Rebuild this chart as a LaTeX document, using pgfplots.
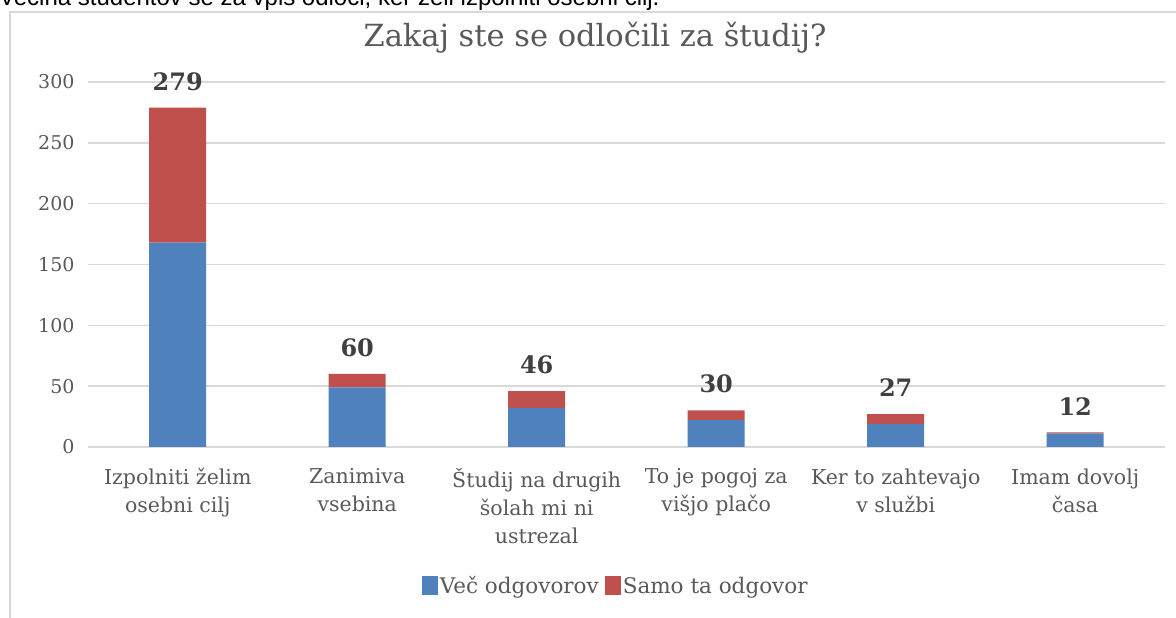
\documentclass[border=0pt]{standalone}
\usepackage{pgfplots}
\pgfplotsset{compat=1.18}
\usepackage{pgfplotstable}
\usepackage{fontspec}
\setmainfont{DejaVu Serif}
\newfontfamily\sans{Liberation Sans}
\definecolor{txt}{HTML}{595959}
\definecolor{lbl}{HTML}{404040}
\definecolor{bl}{HTML}{4F81BD}
\definecolor{rd}{HTML}{C0504D}
\definecolor{grd}{HTML}{D9D9D9}
\pgfplotstableread{
x blue red total
0 168 111 279
1 49 11 60
2 32 14 46
3 22 8 30
4 19 8 27
5 11 1 12
}\data
\pgfplotsset{common/.style={
  at={(88pt,171pt)}, anchor=south west,
  scale only axis, width=1077pt, height=365pt,
  xmin=-0.5, xmax=5.5, ymin=0, ymax=300,
  /pgf/number format/assume math mode=true}}
\begin{document}
\begin{tikzpicture}[x=1pt,y=1pt]
\useasboundingbox (0,0) rectangle (1176,618);
\fill[white] (0,0) rectangle (1176,618);
\node[anchor=base west, inner sep=0, font=\sans\fontsize{24}{28}\selectfont] at (-1,612) {Večina študentov se za vpis odloči, ker želi izpolniti osebni cilj.};
\draw[grd, line width=1.5pt] (10,0) -- (10,606) -- (1180,606);
\node[font=\fontsize{30.5}{36}\selectfont, text=txt] at (595,580) {Zakaj ste se odločili za študij?};
\begin{axis}[
  common,
  ybar stacked, bar width=57pt,
  axis line style={draw=none},
  major tick length=0pt,
  ymajorgrids, grid style={grd, line width=1.5pt},
  ytick={0,50,...,300},
  xtick={0,...,5},
  xticklabels={Izpolniti želim\\osebni cilj, Zanimiva\\vsebina, Študij na drugih\\šolah mi ni\\ustrezal, To je pogoj za\\višjo plačo, Ker to zahtevajo\\v službi, Imam dovolj\\časa},
  yticklabel style={font=\fontsize{19}{24}\selectfont, text=txt, anchor=east, xshift=-10pt},
  xticklabel style={font=\fontsize{20.5}{28}\selectfont, text=txt, align=center, anchor=north, yshift=-18pt},
  legend style={at={(0.49,-0.381)}, anchor=center, draw=none, legend columns=2,
    font=\fontsize{21.5}{24}\selectfont, text=txt,
    /tikz/every even column/.append style={column sep=4pt}},
  legend image code/.code={\fill[#1] (0pt,-9pt) rectangle (16pt,10pt);},
]
\addplot[fill=bl, draw=none] table[x=x, y=blue] {\data};
\addlegendentry{Več odgovorov}
\addplot[fill=rd, draw=none] table[x=x, y=red] {\data};
\addlegendentry{Samo ta odgovor}
\end{axis}
\begin{axis}[
  common, hide axis, clip=false,
]
\addplot[draw=none, mark=none, only marks,
  point meta=explicit,
  nodes near coords,
  nodes near coords style={font=\bfseries\fontsize{24}{28}\selectfont, text=lbl, anchor=south, inner sep=0pt, yshift=17pt},
] table[x=x, y=total, meta=total] {\data};
\end{axis}
\end{tikzpicture}
\end{document}
